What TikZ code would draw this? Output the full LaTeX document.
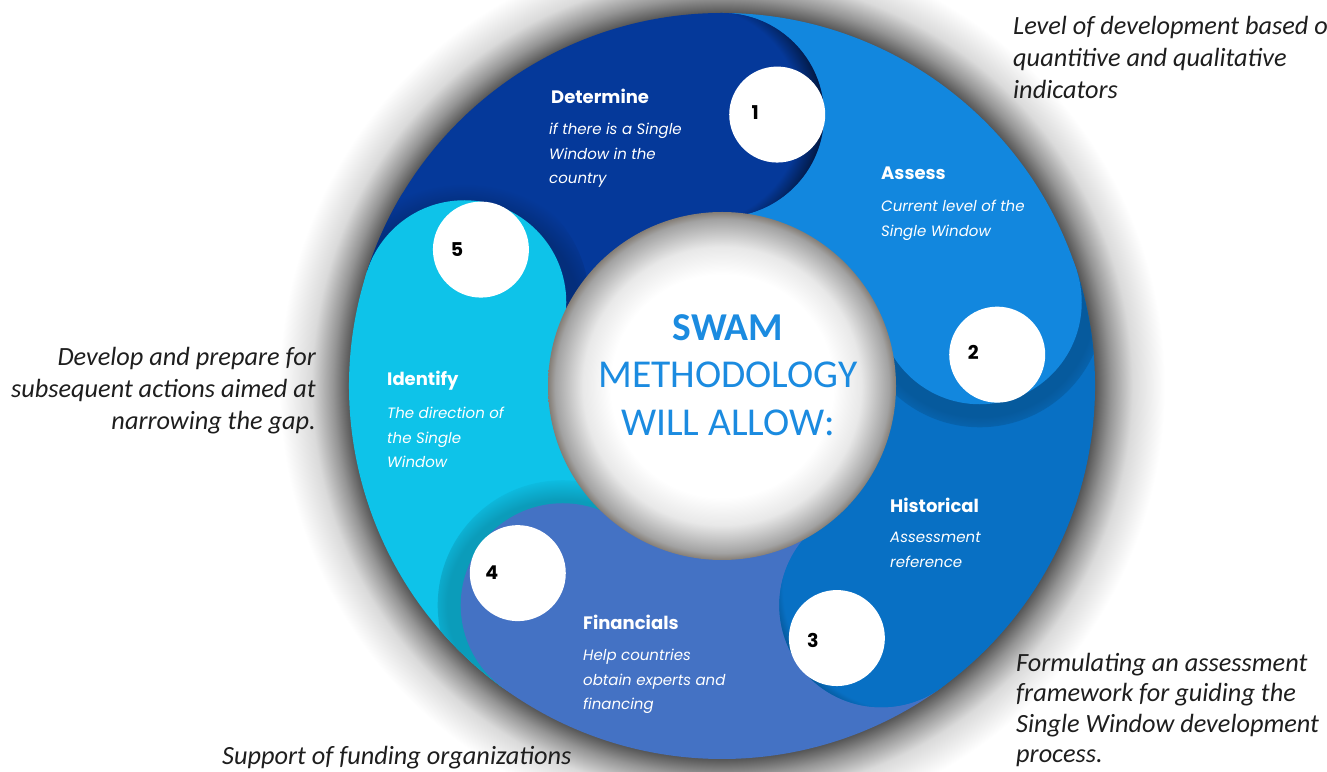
\documentclass[tikz,border=0pt]{standalone}
\usepackage{fontspec}
\setmainfont{Carlito}
\newfontfamily\gothic{Poppins}
\usetikzlibrary{calc}

\definecolor{segA}{HTML}{05399A}
\definecolor{segB}{HTML}{1287DE}
\definecolor{segC}{HTML}{0870C4}
\definecolor{segD}{HTML}{4472C4}
\definecolor{segE}{HTML}{0EC3E9}
\definecolor{swam}{HTML}{1B8BE0}
\definecolor{notecol}{HTML}{1E1E1E}
\definecolor{shd}{HTML}{555555}
\definecolor{shm}{HTML}{959595}
\definecolor{shl}{HTML}{DADADA}
\definecolor{cbA}{HTML}{E8E8E8}
\definecolor{cbB}{HTML}{A2A2A2}
\definecolor{cbC}{HTML}{857E76}
\colorlet{capA}{white}
\colorlet{capB}{black}

\pgfdeclareradialshading{ringshadow}{\pgfpointorigin}{color(0bp)=(shd); color(20.7bp)=(shd); color(21.6bp)=(shm); color(22.8bp)=(shl); color(24.6bp)=(white); color(50bp)=(white)}
\pgfdeclareradialshading{centreball}{\pgfpointorigin}{color(0bp)=(white); color(16bp)=(white); color(20bp)=(cbA); color(24bp)=(cbB); color(25bp)=(cbC); color(50bp)=(cbC)}
\pgfdeclareradialshading[capA,capB]{capedge}{\pgfpointorigin}{color(0bp)=(capA); color(20.5bp)=(capA); color(25bp)=(capB); color(50bp)=(capB)}
\pgfdeclareradialshading[capA,capB]{capdrop}{\pgfpointorigin}{color(0bp)=(capB); color(20.4bp)=(capB); color(25bp)=(capA); color(50bp)=(capA)}

\begin{document}
\begin{tikzpicture}[x=1pt,y=1pt,
  stitle/.style={font=\gothic\bfseries\fontsize{18}{22}\selectfont, text=white, anchor=west, inner sep=0pt},
  sdetail/.style={font=\gothic\itshape\fontsize{15}{24.5}\selectfont, text=white, align=left, anchor=north west, inner sep=0pt},
  numdisc/.style={circle, fill=white, minimum size=96pt, inner sep=0pt},
  numtext/.style={font=\gothic\bfseries\fontsize{19}{22}\selectfont, text=black, inner sep=0pt},
  notetext/.style={font=\itshape\fontsize{26.3}{32}\selectfont, text=notecol, inner sep=0pt},
  centretext/.style={font=\fontsize{39.5}{47.5}\selectfont, text=swam, align=center, inner sep=0pt}]
\useasboundingbox (0,0) rectangle (1327,771);
\clip (0,0) rectangle (1327,771);
\coordinate (O) at (722,385);

% outer soft shadow
\shade[shading=ringshadow] (O) circle (450pt);

% bands
\begin{scope}[shift={(O)}]
\foreach \h/\c in {90/segA, 18/segB, -54/segC, -126/segD, 162/segE}{
  \fill[\c] (\h+72:373) arc[start angle=\h+72, end angle=\h, radius=373pt]
     -- (\h:169) arc[start angle=\h, end angle=\h+72, radius=169pt] -- cycle;
}
\end{scope}

% soft drop shadows of heads onto following band
\foreach \h/\c in {18/segC, -126/segE, 162/segA}{
\begin{scope}[shift={(O)}, rotate=\h, shift={(271,0)}]
  \colorlet{capA}{\c}\colorlet{capB}{\c!80!black}
  \clip (-271,0) circle (373pt);
  \clip (-200,0) rectangle (200,-200);
  \shade[shading=capdrop] (0,0) circle (125pt);
\end{scope}
}

% round heads
\begin{scope}[shift={(O)}]
\foreach \h/\c in {90/segA, 18/segB, -54/segC, -126/segD, 162/segE}{
  \fill[\c] (\h:271) circle (102pt);
}
\end{scope}

% darkened head edges
\foreach \h/\c in {90/segA, -54/segC}{
\begin{scope}[shift={(O)}, rotate=\h, shift={(271,0)}]
  \colorlet{capA}{\c}\colorlet{capB}{\c!40!black}
  \clip (0,0) circle (102pt);
  \clip (-200,0) rectangle (200,-200);
  \shade[shading=capedge] (0,30) circle (132pt);
\end{scope}
}

% centre ball
\shade[shading=centreball] (O) circle (174pt);
\node[centretext] (centre) at (728,396) {\textbf{SWAM}\\METHODOLOGY\\WILL ALLOW:};

% numbered discs
\node[numdisc] (d1) at ($(O)+(78.5:277)$) {};
\node[numdisc] (d2) at ($(O)+(6.5:277)$) {};
\node[numdisc] (d3) at ($(O)+(-65.5:277)$) {};
\node[numdisc] (d4) at ($(O)+(-137.5:277)$) {};
\node[numdisc] (d5) at ($(O)+(150.5:277)$) {};
\node[numtext] (n1) at ($(d1.center)+(-22,2)$) {1};
\node[numtext] (n2) at ($(d2.center)+(-24,2)$) {2};
\node[numtext] (n3) at ($(d3.center)+(-24,-2)$) {3};
\node[numtext] (n4) at ($(d4.center)+(-26,0)$) {4};
\node[numtext] (n5) at ($(d5.center)+(-24,0)$) {5};

% segment texts
\node[stitle] (t1) at (551,675) {Determine};
\node[sdetail] (s1) at (549,648) {if there is a Single\\Window in the\\country};
\node[stitle] (t2) at (881,598) {Assess};
\node[sdetail] (s2) at (881,571) {Current level of the\\Single Window};
\node[stitle] (t3) at (890,266) {Historical};
\node[sdetail] (s3) at (890,239) {Assessment\\reference};
\node[stitle] (t4) at (583,149) {Financials};
\node[sdetail] (s4) at (583,122) {Help countries\\obtain experts and\\financing};
\node[stitle] (t5) at (387,390) {Identify};
\node[sdetail] (s5) at (387,364) {The direction of\\the Single\\Window};

% outside notes
\node[notetext, align=right, anchor=north east] (a5) at (316,424) {Develop and prepare for\\subsequent actions aimed at\\narrowing the gap.};
\node[notetext, align=left, anchor=north west] (a1) at (1013,755) {Level of development based o\\quantitive and qualitative\\indicators};
\node[notetext, font=\itshape\fontsize{26.3}{30.5}\selectfont, align=left, anchor=north west] (a3) at (1016,118) {Formulating an assessment\\framework for guiding the\\Single Window development\\process.};
\node[notetext, anchor=north west] (a4) at (222,25) {Support of funding organizations};
\end{tikzpicture}
\end{document}
